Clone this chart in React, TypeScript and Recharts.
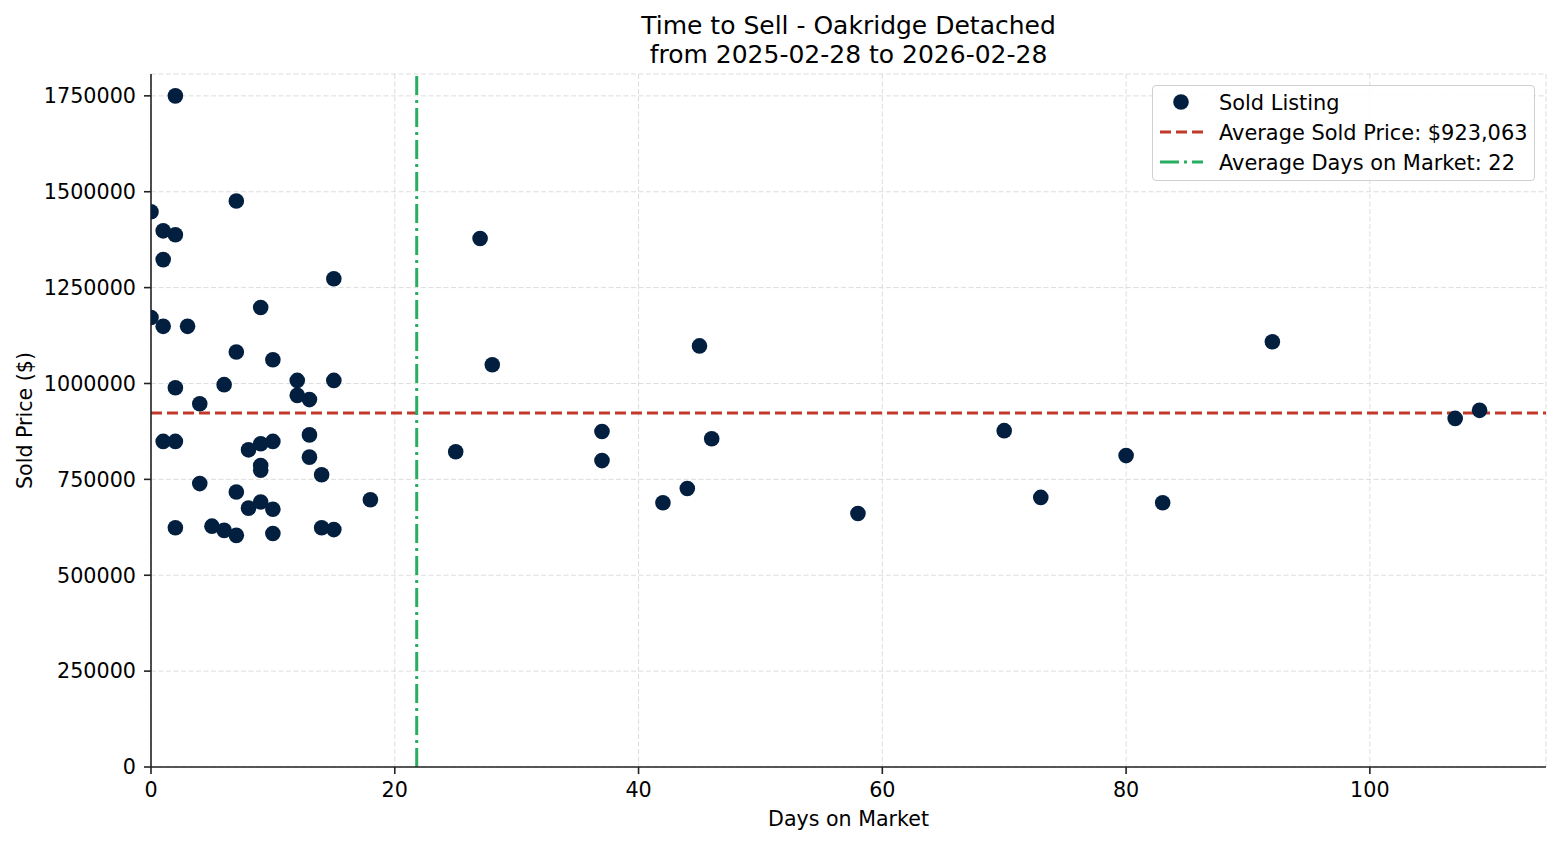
import React from "react"
import { CartesianGrid, Legend, ReferenceLine, Scatter, ScatterChart, XAxis, YAxis } from "recharts"

const days = [
  2, 7, 0, 1, 2, 1, 27, 15, 9, 0, 1, 3, 7, 10, 45, 92, 28, 6, 2, 12, 15, 12, 13, 4, 1, 2, 13, 8, 9, 10,
  13, 9, 9, 14, 4, 7, 18, 9, 8, 10, 2, 5, 6, 7, 10, 14, 15, 25, 37, 37, 42, 44, 46, 58, 70, 73, 80, 83, 107, 109,
]
const prices = [
  1750000, 1476000, 1448000, 1398000, 1388000, 1323000, 1378000, 1273000, 1198000, 1172000, 1149000, 1149000,
  1082000, 1062000, 1098000, 1109000, 1049000, 997000, 989000, 1008000, 1008000, 969000, 958000, 947000, 849000,
  849000, 866000, 827000, 843000, 849000, 808000, 786000, 774000, 762000, 739000, 717000, 697000, 691000, 675000,
  672000, 624000, 628000, 617000, 604000, 609000, 624000, 619000, 822000, 875000, 799000, 689000, 726000, 856000,
  661000, 877000, 703000, 812000, 689000, 909000, 930000,
]
const xTicks = [0, 20, 40, 60, 80, 100]
const yTicks = [0, 250000, 500000, 750000, 1000000, 1250000, 1500000, 1750000]
const AVG_PRICE = 923063
const AVG_DAYS = 21.8

const data = days.map((d, i) => ({ days: d, price: prices[i] }))

const FONT = "'DejaVu Sans', sans-serif"
const NAVY = "#031f40"
const RED = "#c0392b"
const GREEN = "#27ae60"

function LegendBox() {
  const rows = [
    { label: "Sold Listing", kind: "dot" },
    { label: `Average Sold Price: $${AVG_PRICE.toLocaleString("en-US")}`, kind: "dash" },
    { label: `Average Days on Market: ${Math.round(AVG_DAYS)}`, kind: "dashdot" },
  ]
  return (
    <div
      style={{
        width: 381,
        height: 94,
        border: "1px solid #d0d0d0",
        borderRadius: 4,
        background: "rgba(255,255,255,0.85)",
      }}
    >
      <svg width={381} height={94}>
        {rows.map((r, i) => {
          const cy = 16 + i * 30
          return (
            <g key={r.label}>
              {r.kind === "dot" && <circle cx={28} cy={cy} r={7.8} fill={NAVY} />}
              {r.kind === "dash" && (
                <line x1={7} x2={50} y1={cy} y2={cy} stroke={RED} strokeWidth={3} strokeDasharray="11 5" />
              )}
              {r.kind === "dashdot" && (
                <line x1={7} x2={50} y1={cy} y2={cy} stroke={GREEN} strokeWidth={3} strokeDasharray="19 5 3 5" />
              )}
              <text x={66} y={cy + 7.5} fontFamily={FONT} fontSize={20.9} fill="#000">
                {r.label}
              </text>
            </g>
          )
        })}
      </svg>
    </div>
  )
}

export default function App() {
  return (
    <div style={{ position: "absolute", left: 0, top: 0, width: 1560, height: 845, background: "#fff", fontFamily: FONT }}>
      <div
        style={{
          position: "absolute",
          left: 151,
          width: 1395,
          top: 11,
          textAlign: "center",
          fontSize: 25,
          lineHeight: "29px",
          color: "#000",
          zIndex: 2,
        }}
      >
        Time to Sell - Oakridge Detached
        <br />
        from 2025-02-28 to 2026-02-28
      </div>
      <ScatterChart width={1560} height={845} margin={{ top: 74, right: 14, bottom: 18, left: 0 }}>
        <CartesianGrid stroke="#d4d4d4" strokeWidth={0.8} strokeDasharray="5 2.5" />
        <XAxis
          type="number"
          dataKey="days"
          domain={[0, 114.45]}
          ticks={xTicks}
          allowDataOverflow
          height={60}
          stroke="#222"
          strokeWidth={1.6}
          tickSize={7}
          tickMargin={8}
          tick={{ fill: "#000", fontSize: 20.7, fontFamily: FONT }}
          label={{
            value: "Days on Market",
            position: "insideBottom",
            offset: 1,
            fill: "#000",
            fontSize: 20.6,
            fontFamily: FONT,
          }}
        />
        <YAxis
          type="number"
          dataKey="price"
          domain={[0, 1807000]}
          ticks={yTicks}
          allowDataOverflow
          width={151}
          stroke="#222"
          strokeWidth={1.6}
          tickSize={7}
          tickMargin={8}
          tick={{ fill: "#000", fontSize: 20.7, fontFamily: FONT }}
          label={{
            value: "Sold Price ($)",
            angle: -90,
            position: "insideLeft",
            offset: 25,
            fill: "#000",
            fontSize: 20.6,
            fontFamily: FONT,
            style: { textAnchor: "middle" },
          }}
        />
        <Legend
          layout="horizontal"
          verticalAlign="middle"
          align="center"
          wrapperStyle={{ left: 1152, top: 85, width: 383 }}
          content={() => <LegendBox />}
        />
        <Scatter
          data={data}
          isAnimationActive={false}
          fill={NAVY}
          shape={(p: any) => <circle cx={p.cx} cy={p.cy} r={7.8} fill={NAVY} />}
        />
        <ReferenceLine y={AVG_PRICE} stroke={RED} strokeWidth={3} strokeDasharray="11 5" />
        <ReferenceLine x={AVG_DAYS} stroke={GREEN} strokeWidth={3} strokeDasharray="19 5 3 5" />
      </ScatterChart>
    </div>
  )
}
